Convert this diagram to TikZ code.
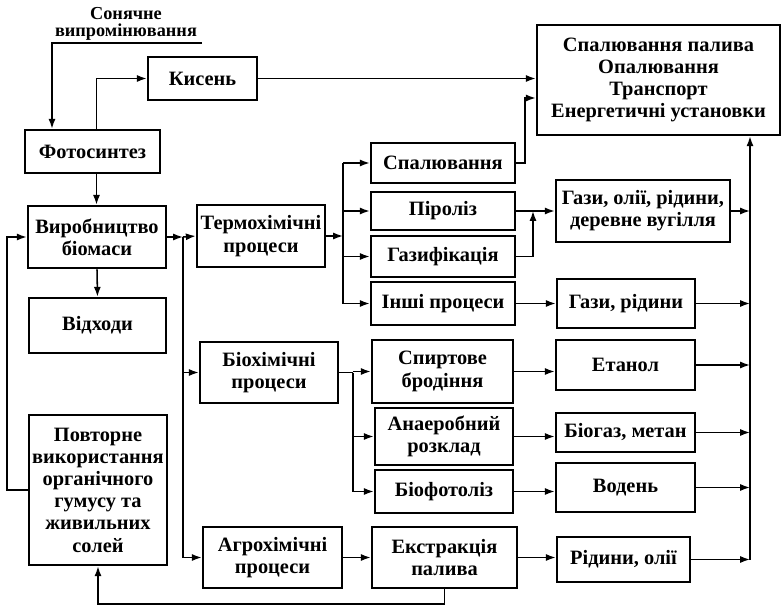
\documentclass[tikz,border=0pt]{standalone}
\usepackage{fontspec}
\setmainfont{Liberation Serif}
\usetikzlibrary{arrows.meta,calc}

\begin{document}
\begin{tikzpicture}[x=0.25mm, y=-0.25mm,
  box/.style 2 args={draw, line width=1.8pt, align=center, inner sep=1pt,
    minimum width=#1*0.25mm, minimum height=#2*0.25mm,
    font=\fontsize{14.5}{15.8}\selectfont\bfseries},
  conn/.style={-{Latex[length=7pt,width=5pt]}, line width=1.1pt},
  wire/.style={line width=1.1pt},
]
  \useasboundingbox (0,0) rectangle (784,605);

  % left column
  \node[font=\fontsize{13}{12.5}\selectfont\bfseries, align=center,
        inner sep=0pt] (sun)
    at (126,24) {Сонячне\\випромінювання};
  \coordinate (sunA) at (202,43);
  \coordinate (sunB) at (52,43);
  \node[box={135}{43}] (photo) at (92.5,151.5) {Фотосинтез};
  \node[box={109}{43}] (oxy) at (202.5,78.5) {Кисень};
  \node[box={138}{62}] (bio) at (97,237) {Виробництво\\біомаси};
  \node[box={137}{55}] (waste) at (97.5,325.5) {Відходи};
  \node[box={138}{150}] (reuse) at (98,490)
    {Повторне\\використання\\органічного\\гумусу та\\живильних\\солей};

  % processes
  \node[box={128}{62}] (thermo) at (261,236) {Термохімічні\\процеси};
  \node[box={138}{61}] (biochem) at (269,372.5) {Біохімічні\\процеси};
  \node[box={139}{61}] (agro) at (272.5,557.5) {Агрохімічні\\процеси};

  \node[box={144}{40}] (burn) at (443,163) {Спалювання};
  \node[box={144}{38}] (pyro) at (443,211) {Піроліз};
  \node[box={144}{41}] (gasif) at (443,256.5) {Газифікація};
  \node[box={144}{43}] (other) at (443,303.5) {Інші процеси};
  \node[box={141}{63}] (ferm) at (442.5,371.5) {Спиртове\\бродіння};
  \node[box={138}{57}] (anaer) at (444,436.5) {Анаеробний\\розклад};
  \node[box={138}{43}] (photol) at (444,491.5) {Біофотоліз};
  \node[box={145}{61}] (extr) at (444.5,557.5) {Екстракція\\палива};

  % products
  \node[box={174}{62}] (gases1) at (643,211) {Гази, олії, рідини,\\деревне вугілля};
  \node[box={138}{49}] (gases2) at (626,303.5) {Гази, рідини};
  \node[box={139}{50}] (ethanol) at (625.5,365) {Етанол};
  \node[box={139}{39}] (biogas) at (625.5,432.5) {Біогаз, метан};
  \node[box={139}{49}] (hydro) at (625.5,487.5) {Водень};
  \node[box={133}{45}] (oils) at (623.5,559.5) {Рідини, олії};
  \node[box={243}{110}] (big) at (658.5,80)
    {Спалювання палива\\Опалювання\\Транспорт\\Енергетичні установки};

  % junctions
  \coordinate (trunk) at (183,237);
  \coordinate (tb) at (343,236);
  \coordinate (bb) at (353,372.5);
  \coordinate (gm) at (533,211);
  \coordinate (bus) at (750,559.5);

  % connectors
  \draw[conn] (sunA) -- (sunB) -- (sunB |- photo.north);
  \draw[conn] ([xshift=1mm]photo.north) |- (oxy.west);
  \draw[conn] ([xshift=1mm]photo.south) -- ([xshift=1mm]photo.south |- bio.north);
  \draw[conn] (oxy.east) -- (oxy.east -| big.west);
  \draw[conn] (bio.south) -- (waste.north);
  \draw[conn] (reuse.west) -- ++(-21,0) |- (bio.west);
  \draw[conn] (bio.east) -- (trunk);
  \draw[conn] (trunk) -- (thermo.west);
  \draw[conn] (trunk) |- (agro.west);
  \draw[conn] (trunk |- biochem.west) -- (biochem.west);

  \draw[conn] (thermo.east) -- (tb);
  \draw[wire] (tb |- burn.west) -- (tb |- other.west);
  \foreach \n in {burn,pyro,gasif,other}{
    \draw[conn] (tb |- \n.west) -- (\n.west);
  }
  \draw[conn] (burn.east) -- ++(9,0) |- ([yshift=-4.5mm]big.west);

  \draw[wire] (biochem.east) -- (bb);
  \draw[wire] (bb) -- (bb |- photol.west);
  \foreach \n in {ferm,anaer,photol}{
    \draw[conn] (bb |- \n.west) -- (\n.west);
  }
  \draw[conn] (agro.east) -- (extr.west);

  \draw[conn] (pyro.east) -- (gases1.west);
  \draw[conn] (gasif.east) -| (gm);
  \draw[conn] (other.east) -- (other.east -| gases2.west);
  \draw[conn] (ferm.east) -- (ferm.east -| ethanol.west);
  \draw[conn] (anaer.east) -- (anaer.east -| biogas.west);
  \draw[conn] (photol.east) -- (photol.east -| hydro.west);
  \draw[conn] (extr.east) -- (extr.east -| oils.west);

  \foreach \n in {gases1,gases2,ethanol,biogas,hydro,oils}{
    \draw[conn] (\n.east) -- (bus |- \n.east);
  }
  \draw[conn] (bus) -- (bus |- big.south);
  \draw[conn] (extr.south) -- ++(0,15) -| (reuse.south);
\end{tikzpicture}
\end{document}
